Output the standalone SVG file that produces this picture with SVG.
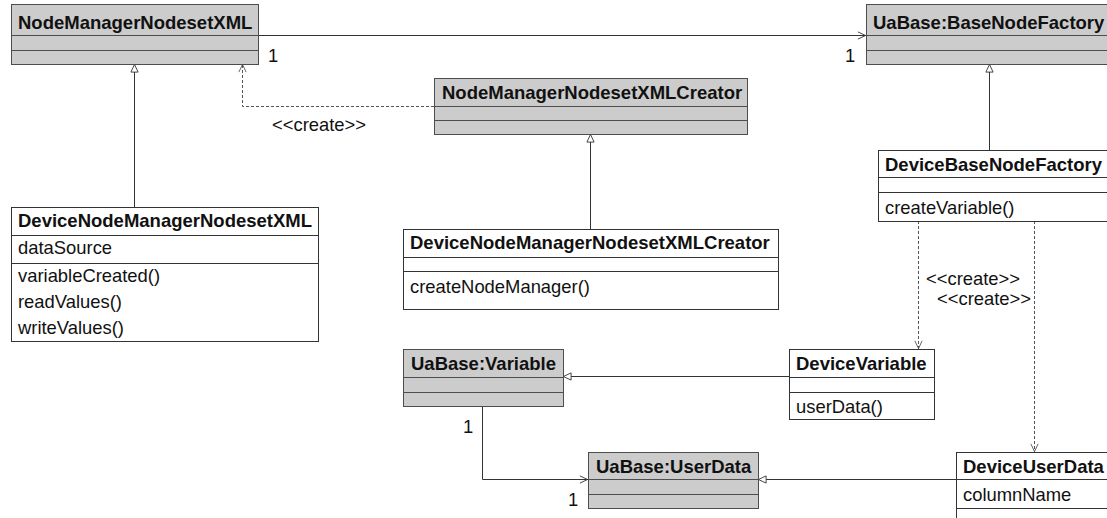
<svg xmlns="http://www.w3.org/2000/svg" width="1107" height="518" viewBox="0 0 1107 518">
  <style>
    .abs rect.box { fill: #cccccc; stroke: #4d4d4d; stroke-width: 1; }
    .abs line { stroke: #4d4d4d; stroke-width: 1; }
    .cls rect.box { fill: #ffffff; stroke: #333333; stroke-width: 1; }
    .cls line { stroke: #333333; stroke-width: 1; }
    .name { font-family: "Liberation Sans", Arial, sans-serif; font-weight: bold; font-size: 18.5px; fill: #111111; }
    .mem { font-family: "Liberation Sans", Arial, sans-serif; font-size: 18.4px; fill: #111111; }
    .lbl { font-family: "Liberation Sans", Arial, sans-serif; font-size: 18.4px; fill: #111111; }
    .solid { fill: none; stroke: #333333; stroke-width: 1; }
    .dep { fill: none; stroke: #555555; stroke-width: 1; stroke-dasharray: 3 2; }
  </style>
  <defs>
    <marker id="gen" viewBox="0 0 10 10" refX="10" refY="5" markerWidth="9" markerHeight="9" markerUnits="userSpaceOnUse" orient="auto">
      <path d="M1,1 L9.5,5 L1,9 Z" fill="#ffffff" stroke="#333333" stroke-width="1"/>
    </marker>
    <marker id="open" viewBox="0 0 10 10" refX="10" refY="5" markerWidth="9" markerHeight="9" markerUnits="userSpaceOnUse" orient="auto">
      <path d="M1,1 L9.5,5 L1,9" fill="none" stroke="#333333" stroke-width="1"/>
    </marker>
    <marker id="openDep" viewBox="0 0 10 10" refX="10" refY="5" markerWidth="9" markerHeight="9" markerUnits="userSpaceOnUse" orient="auto">
      <path d="M1,1 L9.5,5 L1,9" fill="none" stroke="#555555" stroke-width="1"/>
    </marker>
  </defs>

  <!-- connectors -->
  <g id="connectors">
    <!-- association NodeManagerNodesetXML -> UaBase:BaseNodeFactory -->
    <line class="solid" x1="258" y1="35.5" x2="866" y2="35.5" marker-end="url(#open)"/>
    <text class="lbl" x="268" y="62">1</text>
    <text class="lbl" x="845" y="62">1</text>
    <!-- generalization DeviceNodeManagerNodesetXML -> NodeManagerNodesetXML -->
    <line class="solid" x1="134.5" y1="207" x2="134.5" y2="64" marker-end="url(#gen)"/>
    <!-- create dependency Creator -> NodeManagerNodesetXML -->
    <polyline class="dep" points="434,106.5 242.5,106.5 242.5,64" marker-end="url(#openDep)"/>
    <text class="lbl" x="272" y="131">&lt;&lt;create&gt;&gt;</text>
    <!-- generalization DeviceNodeManagerNodesetXMLCreator -> NodeManagerNodesetXMLCreator -->
    <line class="solid" x1="590.5" y1="229" x2="590.5" y2="134" marker-end="url(#gen)"/>
    <!-- generalization DeviceBaseNodeFactory -> UaBase:BaseNodeFactory -->
    <line class="solid" x1="989.5" y1="150" x2="989.5" y2="64" marker-end="url(#gen)"/>
    <!-- create dependencies from DeviceBaseNodeFactory -->
    <line class="dep" x1="918.5" y1="221" x2="918.5" y2="349" marker-end="url(#openDep)"/>
    <text class="lbl" x="926" y="285">&lt;&lt;create&gt;&gt;</text>
    <line class="dep" x1="1034.5" y1="221" x2="1034.5" y2="452" marker-end="url(#openDep)"/>
    <text class="lbl" x="937" y="305">&lt;&lt;create&gt;&gt;</text>
    <!-- generalization DeviceVariable -> UaBase:Variable -->
    <line class="solid" x1="789" y1="376.5" x2="563" y2="376.5" marker-end="url(#gen)"/>
    <!-- association UaBase:Variable -> UaBase:UserData -->
    <polyline class="solid" points="482.5,406 482.5,479.5 588,479.5" marker-end="url(#open)"/>
    <text class="lbl" x="463" y="433">1</text>
    <text class="lbl" x="568" y="506">1</text>
    <!-- generalization DeviceUserData -> UaBase:UserData -->
    <line class="solid" x1="956" y1="479.5" x2="758" y2="479.5" marker-end="url(#gen)"/>
  </g>

  <!-- classes -->
  <g id="NodeManagerNodesetXML" class="abs">
    <rect class="box" x="11.5" y="4.5" width="247" height="60"/>
    <line x1="11.5" y1="35.5" x2="258.5" y2="35.5"/>
    <line x1="11.5" y1="50.5" x2="258.5" y2="50.5"/>
    <text class="name" x="18" y="29">NodeManagerNodesetXML</text>
  </g>

  <g id="UaBase_BaseNodeFactory" class="abs">
    <rect class="box" x="866.5" y="4.5" width="260" height="60"/>
    <line x1="866.5" y1="35.5" x2="1126.5" y2="35.5"/>
    <line x1="866.5" y1="50.5" x2="1126.5" y2="50.5"/>
    <text class="name" x="873" y="29">UaBase:BaseNodeFactory</text>
  </g>

  <g id="NodeManagerNodesetXMLCreator" class="abs">
    <rect class="box" x="434.5" y="78.5" width="313" height="56"/>
    <line x1="434.5" y1="106.5" x2="747.5" y2="106.5"/>
    <line x1="434.5" y1="120.5" x2="747.5" y2="120.5"/>
    <text class="name" x="442" y="99">NodeManagerNodesetXMLCreator</text>
  </g>

  <g id="DeviceNodeManagerNodesetXML" class="cls">
    <rect class="box" x="11.5" y="207.5" width="307" height="134"/>
    <line x1="11.5" y1="235.5" x2="318.5" y2="235.5"/>
    <line x1="11.5" y1="263.5" x2="318.5" y2="263.5"/>
    <text class="name" x="18" y="227">DeviceNodeManagerNodesetXML</text>
    <text class="mem" x="18" y="254">dataSource</text>
    <text class="mem" x="18" y="282">variableCreated()</text>
    <text class="mem" x="18" y="308">readValues()</text>
    <text class="mem" x="18" y="334">writeValues()</text>
  </g>

  <g id="DeviceNodeManagerNodesetXMLCreator" class="cls">
    <rect class="box" x="403.5" y="229.5" width="375" height="80"/>
    <line x1="403.5" y1="257.5" x2="778.5" y2="257.5"/>
    <line x1="403.5" y1="271.5" x2="778.5" y2="271.5"/>
    <text class="name" x="410" y="249">DeviceNodeManagerNodesetXMLCreator</text>
    <text class="mem" x="410" y="293">createNodeManager()</text>
  </g>

  <g id="DeviceBaseNodeFactory" class="cls">
    <rect class="box" x="878.5" y="150.5" width="250" height="71"/>
    <line x1="878.5" y1="177.5" x2="1128.5" y2="177.5"/>
    <line x1="878.5" y1="192.5" x2="1128.5" y2="192.5"/>
    <text class="name" x="885" y="171">DeviceBaseNodeFactory</text>
    <text class="mem" x="885" y="214">createVariable()</text>
  </g>

  <g id="UaBase_Variable" class="abs">
    <rect class="box" x="403.5" y="349.5" width="160" height="57"/>
    <line x1="403.5" y1="377.5" x2="563.5" y2="377.5"/>
    <line x1="403.5" y1="392.5" x2="563.5" y2="392.5"/>
    <text class="name" x="411" y="370">UaBase:Variable</text>
  </g>

  <g id="DeviceVariable" class="cls">
    <rect class="box" x="789.5" y="349.5" width="145" height="70"/>
    <line x1="789.5" y1="377.5" x2="934.5" y2="377.5"/>
    <line x1="789.5" y1="392.5" x2="934.5" y2="392.5"/>
    <text class="name" x="796" y="370">DeviceVariable</text>
    <text class="mem" x="796" y="413">userData()</text>
  </g>

  <g id="UaBase_UserData" class="abs">
    <rect class="box" x="588.5" y="452.5" width="170" height="56"/>
    <line x1="588.5" y1="479.5" x2="758.5" y2="479.5"/>
    <line x1="588.5" y1="494.5" x2="758.5" y2="494.5"/>
    <text class="name" x="596" y="473">UaBase:UserData</text>
  </g>

  <g id="DeviceUserData" class="cls">
    <rect class="box" x="956.5" y="452.5" width="170" height="80"/>
    <line x1="956.5" y1="479.5" x2="1126.5" y2="479.5"/>
    <line x1="956.5" y1="508.5" x2="1126.5" y2="508.5"/>
    <text class="name" x="963" y="473">DeviceUserData</text>
    <text class="mem" x="963" y="501">columnName</text>
  </g>
</svg>
